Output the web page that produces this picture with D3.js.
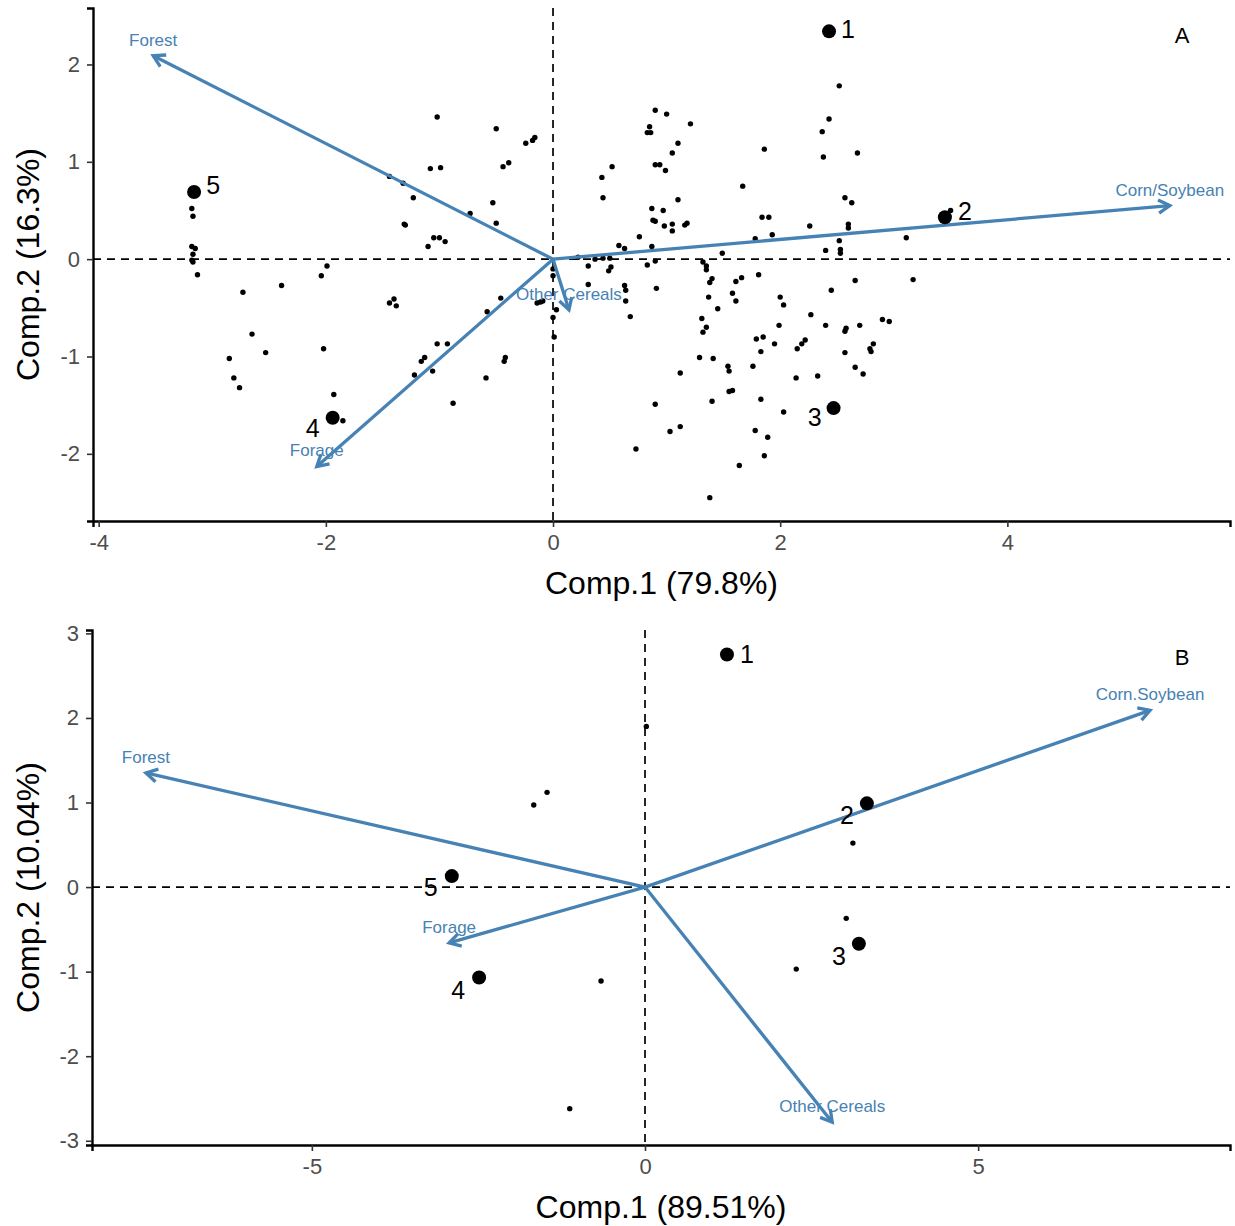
<!DOCTYPE html>
<html><head><meta charset="utf-8">
<script src="https://cdn.jsdelivr.net/npm/d3@7"></script>
<style>body{margin:0;background:#fff}svg{display:block}text{font-family:Arial,"Liberation Sans",sans-serif}</style>
</head><body>
<svg id="chart" width="1235" height="1226"></svg>
<script>
// ---------- Panel A data ----------
const aSmallX = [-3.18,-3.17,-3.18,-3.15,-3.17,-3.18,-3.17,-3.13,-1.02,-0.50,-0.24,-0.16,-0.18,-1.08,-0.99,-0.44,-0.39,-1.44,-1.32,-1.23,-0.53,-0.73,-1.31,-1.30,-0.50,-1.05,-1.00,-0.95,-1.10,-1.99,-2.04,-2.73,-2.39,-1.44,-1.40,-1.38,-0.46,-0.58,-0.14,-0.09,-0.11,0.00,0.00,0.03,0.00,0.01,-2.65,-2.53,-2.85,-2.02,-2.81,-2.76,-1.02,-0.93,-1.16,-1.13,-1.22,-1.06,-0.42,-0.43,-0.59,-0.88,-1.93,-1.85,
2.52,2.43,2.37,2.38,2.68,1.86,0.90,1.00,1.21,0.85,0.83,0.86,1.10,1.05,0.90,0.94,0.99,0.52,0.43,0.44,1.67,1.10,0.87,0.97,0.88,0.90,0.98,1.05,1.05,1.18,1.16,1.84,1.90,2.57,2.63,2.60,2.60,2.26,3.11,2.52,2.40,2.53,2.53,0.76,0.87,0.58,0.63,1.78,1.93,1.49,0.37,0.44,0.50,0.22,0.31,0.51,0.49,0.83,0.90,1.32,1.35,1.35,
0.31,0.63,0.64,0.64,0.68,0.91,1.40,1.38,1.61,1.66,1.81,1.37,1.58,1.61,1.45,2.00,2.03,2.45,2.66,3.17,1.31,1.35,1.32,1.99,2.27,2.40,2.58,2.57,2.70,2.90,2.96,1.79,1.85,1.95,1.83,2.22,2.19,2.15,2.57,2.82,2.79,2.80,1.29,1.41,1.54,1.55,1.76,1.12,2.66,2.73,2.14,2.33,1.55,1.58,1.83,0.90,1.40,2.03,1.03,1.12,1.78,1.89,0.73,1.86,1.64,1.38,3.50];
const aSmallY = [0.52,0.44,0.13,0.11,0.05,-0.01,-0.03,-0.16,1.46,1.34,1.19,1.25,1.22,0.93,0.94,0.95,0.99,0.85,0.78,0.63,0.58,0.47,0.36,0.35,0.37,0.22,0.22,0.18,0.13,-0.07,-0.17,-0.34,-0.27,-0.45,-0.41,-0.48,-0.40,-0.54,-0.45,-0.43,-0.44,-0.10,-0.17,-0.52,-0.60,-0.80,-0.77,-0.96,-1.02,-0.92,-1.22,-1.32,-0.87,-0.87,-1.05,-1.01,-1.19,-1.15,-1.01,-1.05,-1.22,-1.48,-1.39,-1.66,
1.78,1.44,1.31,1.05,1.09,1.13,1.53,1.49,1.39,1.36,1.30,1.30,1.19,1.09,0.97,0.97,0.91,0.95,0.84,0.63,0.75,0.61,0.52,0.50,0.40,0.39,0.34,0.36,0.29,0.37,0.35,0.43,0.43,0.63,0.58,0.36,0.32,0.34,0.22,0.19,0.09,0.10,0.06,0.23,0.13,0.14,0.11,0.21,0.25,0.06,0.00,0.01,0.01,0.02,-0.07,-0.08,-0.12,-0.06,-0.02,-0.03,-0.07,-0.11,
-0.26,-0.27,-0.32,-0.43,-0.59,-0.30,-0.20,-0.24,-0.23,-0.19,-0.16,-0.39,-0.35,-0.43,-0.51,-0.39,-0.47,-0.32,-0.22,-0.21,-0.61,-0.70,-0.75,-0.68,-0.57,-0.68,-0.71,-0.74,-0.68,-0.62,-0.64,-0.82,-0.80,-0.87,-0.95,-0.83,-0.87,-0.92,-0.96,-0.87,-0.92,-0.95,-1.01,-1.02,-1.10,-1.15,-1.10,-1.17,-1.11,-1.18,-1.22,-1.20,-1.36,-1.35,-1.44,-1.49,-1.46,-1.57,-1.77,-1.72,-1.76,-1.83,-1.95,-2.02,-2.12,-2.45,0.50];
const aLabelIds = ["1","2","3","4","5"];
const aLabelX = [2.43,3.45,2.47,-1.94,-3.16];
const aLabelY = [2.34,0.43,-1.53,-1.63,0.69];
const aVarNames = ["Forest","Corn/Soybean","Forage","Other Cereals"];
const aVarX = [-3.52,5.43,-2.08,0.14];
const aVarY = [2.09,0.55,-2.13,-0.52];
const aXTicks = [-4,-2,0,2,4];
const aYTicks = [-2,-1,0,1,2];

// ---------- Panel B data ----------
const bSmallX = [0.02,-1.67,-1.47,3.12,3.02,2.27,-0.66,-1.13];
const bSmallY = [1.90,0.97,1.12,0.52,-0.37,-0.97,-1.11,-2.62];
const bLabelIds = ["1","2","3","4","5"];
const bLabelX = [1.23,3.33,3.21,-2.49,-2.90];
const bLabelY = [2.75,0.99,-0.67,-1.07,0.13];
const bVarNames = ["Forest","Corn.Soybean","Forage","Other Cereals"];
const bVarX = [-7.49,7.58,-2.94,2.81];
const bVarY = [1.35,2.09,-0.66,-2.78];
const bXTicks = [-5,0,5];
const bYTicks = [-3,-2,-1,0,1,2,3];

const svg = d3.select("#chart");
const BLUE = "#4682B4";

function panel(cfg){
  const x = d3.scaleLinear().domain(cfg.xDom).range([cfg.left, cfg.right]);
  const y = d3.scaleLinear().domain(cfg.yDom).range([cfg.bottom, cfg.top]);
  const g = svg.append("g");
  g.append("line").attr("x1",cfg.left).attr("x2",cfg.right).attr("y1",y(0)).attr("y2",y(0))
    .attr("stroke","#000").attr("stroke-width",1.7).attr("stroke-dasharray","8,6");
  g.append("line").attr("x1",x(0)).attr("x2",x(0)).attr("y1",cfg.top).attr("y2",cfg.bottom)
    .attr("stroke","#000").attr("stroke-width",1.7).attr("stroke-dasharray","8,6");
  const xa = g.append("g").attr("transform",`translate(0,${cfg.bottom})`)
    .call(d3.axisBottom(x).tickValues(cfg.xTicks).tickSize(6).tickPadding(7).tickFormat(d3.format("d")));
  const ya = g.append("g").attr("transform",`translate(${cfg.left},0)`)
    .call(d3.axisLeft(y).tickValues(cfg.yTicks).tickSize(6).tickPadding(7).tickFormat(d3.format("d")));
  [xa,ya].forEach(a=>{
    a.select(".domain").attr("stroke","#000").attr("stroke-width",2.4);
    a.selectAll(".tick line").attr("stroke","#333").attr("stroke-width",1.6);
    a.selectAll(".tick text").attr("fill","#4d4d4d").style("font-size","22px")
      .text(d=> d<0 ? "-"+Math.abs(d) : d);
  });
  g.append("g").selectAll("circle").data(d3.range(cfg.sx.length)).join("circle")
    .attr("cx",i=>x(cfg.sx[i])).attr("cy",i=>y(cfg.sy[i])).attr("r",2.7).attr("fill","#000");
  const ag = g.append("g");
  cfg.vn.forEach((name,i)=>{
    const x0=x(0), y0=y(0), x1=x(cfg.vx[i]), y1=y(cfg.vy[i]);
    const ang=Math.atan2(y1-y0,x1-x0), L=13, a=Math.PI/6;
    ag.append("line").attr("x1",x0).attr("y1",y0).attr("x2",x1).attr("y2",y1)
      .attr("stroke",BLUE).attr("stroke-width",3.3);
    const p=`M${x1-L*Math.cos(ang-a)},${y1-L*Math.sin(ang-a)}L${x1},${y1}L${x1-L*Math.cos(ang+a)},${y1-L*Math.sin(ang+a)}`;
    ag.append("path").attr("d",p).attr("fill","none").attr("stroke",BLUE).attr("stroke-width",3.3);
  });
  cfg.lid.forEach((id,i)=>{
    g.append("circle").attr("cx",x(cfg.lx[i])).attr("cy",y(cfg.ly[i])).attr("r",7).attr("fill","#000");
    const o=cfg.lofs[i];
    g.append("text").attr("x",x(cfg.lx[i])+o[0]).attr("y",y(cfg.ly[i])+o[1])
      .attr("text-anchor","middle").attr("dominant-baseline","central")
      .style("font-size","25px").attr("fill","#000").text(id);
  });
  cfg.vn.forEach((name,i)=>{
    g.append("text").attr("x",x(cfg.vx[i])).attr("y",y(cfg.vy[i])-10)
      .attr("text-anchor","middle").style("font-size","17px").attr("fill",BLUE).text(name);
  });
  g.append("text").attr("x",1182).attr("y",cfg.top+35).attr("text-anchor","middle")
    .style("font-size","22px").attr("fill","#000").text(cfg.letter);
  g.append("text").attr("x",(cfg.left+cfg.right)/2).attr("y",cfg.bottom+73).attr("text-anchor","middle")
    .style("font-size","32px").attr("fill","#000").text(cfg.xTitle);
  g.append("text").attr("transform",`translate(39,${(cfg.top+cfg.bottom)/2}) rotate(-90)`)
    .attr("text-anchor","middle").style("font-size","32px").attr("fill","#000").text(cfg.yTitle);
}

panel({xDom:[-4.05,5.96], yDom:[-2.69,2.58], left:93, right:1230, top:8, bottom:521,
  xTicks:aXTicks, yTicks:aYTicks, sx:aSmallX, sy:aSmallY,
  lid:aLabelIds, lx:aLabelX, ly:aLabelY, lofs:[[19,-2],[20,-6],[-19,9],[-20,10],[19,-7]],
  vn:aVarNames, vx:aVarX, vy:aVarY, letter:"A",
  xTitle:"Comp.1 (79.8%)", yTitle:"Comp.2 (16.3%)"});

panel({xDom:[-8.3,8.78], yDom:[-3.05,3.04], left:92, right:1230, top:630, bottom:1145,
  xTicks:bXTicks, yTicks:bYTicks, sx:bSmallX, sy:bSmallY,
  lid:bLabelIds, lx:bLabelX, ly:bLabelY, lofs:[[20,-1],[-20,12],[-20,12],[-21,12],[-21,11]],
  vn:bVarNames, vx:bVarX, vy:bVarY, letter:"B",
  xTitle:"Comp.1 (89.51%)", yTitle:"Comp.2 (10.04%)"});
</script>
</body></html>
